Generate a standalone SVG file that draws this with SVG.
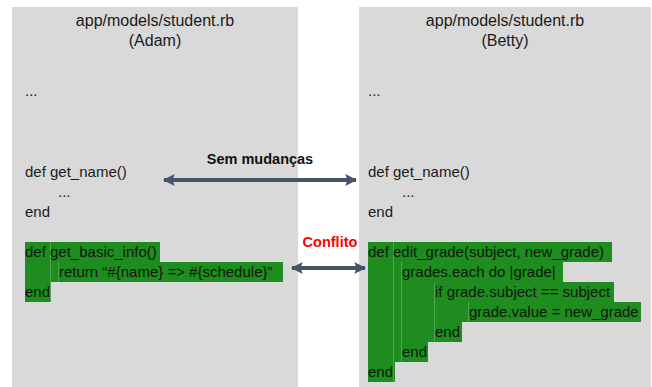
<svg xmlns="http://www.w3.org/2000/svg" width="652" height="387" viewBox="0 0 652 387">
  <style>
    .panel { fill: #d9d9d9; }
    .hl { fill: #1e8c1e; }
    .sep { stroke: #4aa84a; stroke-width: 1; }
    .title { font-family: "Liberation Sans", Arial, sans-serif; font-size: 16px; fill: #1a1a1a; text-anchor: middle; }
    .code { font-family: "Liberation Sans", Arial, sans-serif; font-size: 15px; fill: #1a1a1a; }
    .hcode { font-family: "Liberation Sans", Arial, sans-serif; font-size: 15px; fill: #0a1a0a; }
    .lbl { font-family: "Liberation Sans", Arial, sans-serif; font-size: 14.5px; font-weight: bold; text-anchor: middle; }
    .conn { stroke: #44546a; stroke-width: 4; fill: none; marker-start: url(#head); marker-end: url(#head); }
  </style>
  <defs>
    <marker id="head" viewBox="0 0 10 10" refX="9" refY="5" markerWidth="3" markerHeight="3.2" orient="auto-start-reverse" markerUnits="strokeWidth">
      <path d="M0,0 L10,5 L0,10 L2,5 Z" fill="#44546a"/>
    </marker>
  </defs>

  <rect width="652" height="387" fill="#ffffff"/>

  <!-- Adam's version of the file -->
  <g id="adam">
    <rect class="panel" x="12" y="7" width="286" height="380"/>
    <text class="title" x="155" y="26">app/models/student.rb</text>
    <text class="title" x="155" y="46">(Adam)</text>
    <text class="code" x="25" y="96">...</text>
    <text class="code" x="25" y="177">def get_name()</text>
    <text class="code" x="58" y="197">...</text>
    <text class="code" x="25" y="217">end</text>
    <g id="adam-changed">
      <path class="hl" d="M25,242 H160 V262 H283 V282 H51 V302 H25 Z"/>
      <line class="sep" x1="50.5" y1="242" x2="50.5" y2="302"/>
      <line class="sep" x1="58.5" y1="262" x2="58.5" y2="282"/>
      <text class="hcode" x="25" y="257">def get_basic_info()</text>
      <text class="hcode" x="59" y="277">return “#{name} =&gt; #{schedule}”</text>
      <text class="hcode" x="25" y="297">end</text>
    </g>
  </g>

  <!-- Betty's version of the file -->
  <g id="betty">
    <rect class="panel" x="359" y="7" width="292" height="380"/>
    <text class="title" x="505" y="26">app/models/student.rb</text>
    <text class="title" x="505" y="46">(Betty)</text>
    <text class="code" x="368" y="96">...</text>
    <text class="code" x="368" y="177">def get_name()</text>
    <text class="code" x="402" y="197">...</text>
    <text class="code" x="368" y="217">end</text>
    <g id="betty-changed">
      <path class="hl" d="M368,242 H612 V262 H563 V282 H614 V302 H641 V322 H462 V342 H428 V362 H395 V382 H368 Z"/>
      <line class="sep" x1="393.5" y1="242" x2="393.5" y2="382"/>
      <line class="sep" x1="401.5" y1="262" x2="401.5" y2="362"/>
      <line class="sep" x1="434.5" y1="282" x2="434.5" y2="342"/>
      <line class="sep" x1="468.5" y1="302" x2="468.5" y2="322"/>
      <text class="hcode" x="368" y="257">def edit_grade(subject, new_grade)</text>
      <text class="hcode" x="402" y="277">grades.each do |grade|</text>
      <text class="hcode" x="435" y="297">if grade.subject == subject</text>
      <text class="hcode" x="469" y="317">grade.value = new_grade</text>
      <text class="hcode" x="435" y="337">end</text>
      <text class="hcode" x="402" y="357">end</text>
      <text class="hcode" x="368" y="377">end</text>
    </g>
  </g>

  <!-- connectors between the two versions -->
  <g id="connectors">
    <line class="conn" x1="164" y1="180" x2="356" y2="180"/>
    <text class="lbl" x="260" y="164" fill="#111111">Sem mudanças</text>
    <line class="conn" x1="292" y1="268" x2="365" y2="268"/>
    <text class="lbl" x="330" y="247" fill="#ff0000">Conflito</text>
  </g>
</svg>
